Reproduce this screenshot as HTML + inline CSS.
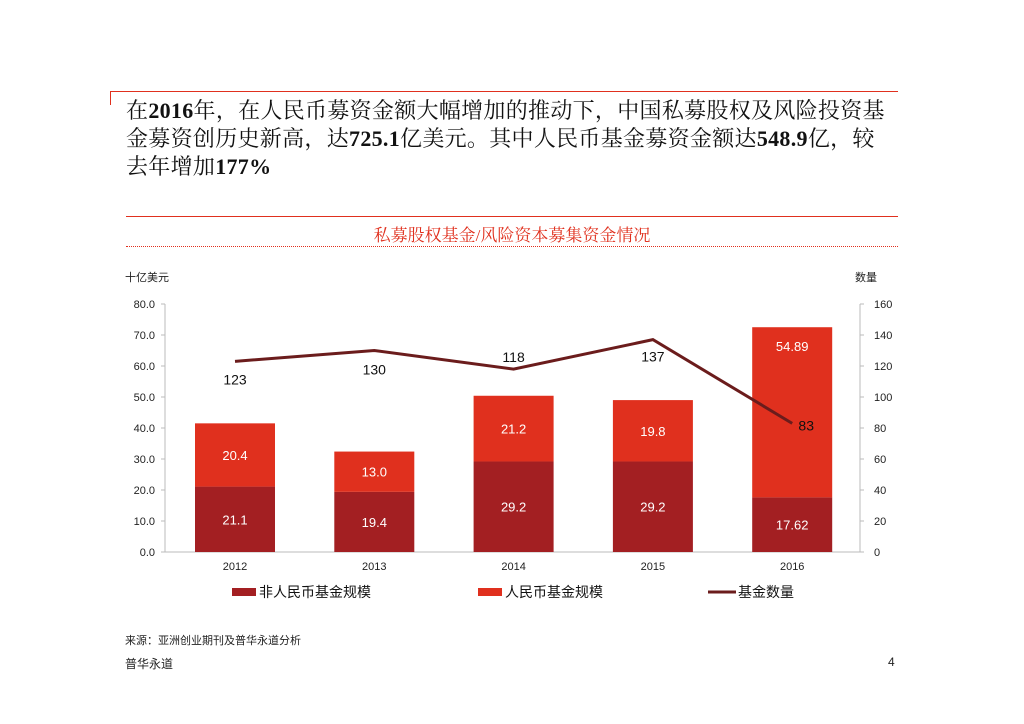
<!DOCTYPE html>
<html><head><meta charset="utf-8">
<style>
body{margin:0;width:1024px;height:724px;background:#fff;overflow:hidden;font-family:"Liberation Sans","Noto Sans CJK SC",sans-serif;}
.hdr{position:absolute;left:126px;top:97px;width:790px;font-family:"Liberation Serif","Noto Serif CJK SC",serif;font-size:22px;letter-spacing:0.3px;line-height:28px;color:#111;white-space:nowrap;}
.hdr b{font-weight:bold;}
</style></head><body>
<div style="position:absolute;left:110px;top:91px;width:788px;height:1px;background:#e0301e"></div>
<div style="position:absolute;left:110px;top:91px;width:1px;height:14px;background:#e0301e"></div>
<div class="hdr">在<b>2016</b>年，在人民币募资金额大幅增加的推动下，中国私募股权及风险投资基<br>金募资创历史新高，达<b>725.1</b>亿美元。其中人民币基金募资金额达<b>548.9</b>亿，较<br>去年增加<b>177%</b></div>
<div style="position:absolute;left:126px;top:216px;width:772px;height:1px;background:#e0301e"></div>
<div style="position:absolute;left:126px;top:221px;width:772px;text-align:center;font-family:'Liberation Serif','Noto Serif CJK SC',serif;font-size:17px;color:#e0301e">私募股权基金/风险资本募集资金情况</div>
<div style="position:absolute;left:126px;top:246px;width:772px;border-top:1px dotted #e0301e"></div>
<svg width="1024" height="724" style="position:absolute;left:0;top:0" id="chart"></svg>
<div style="position:absolute;left:125px;top:632px;font-size:11px;color:#222">来源：亚洲创业期刊及普华永道分析</div>
<div style="position:absolute;left:125px;top:655px;font-size:12px;color:#222">普华永道</div>
<div style="position:absolute;left:888px;top:655px;font-size:12px;color:#222">4</div>
<script>
const years=["2012","2013","2014","2015","2016"];
const nonRmb=[21.1,19.4,29.2,29.2,17.62];
const rmb=[20.4,13.0,21.2,19.8,54.89];
const fundCount=[123,130,118,137,83];
const leftTicks=[0,10,20,30,40,50,60,70,80];
const rightTicks=[0,20,40,60,80,100,120,140,160];
const NS="http://www.w3.org/2000/svg";
const svg=document.getElementById('chart');
const x0=165,x1=860,yB=552,yT=304;
const yL=v=>yB-(v/80)*(yB-yT);
const yR=v=>yB-(v/160)*(yB-yT);
const xC=i=>235+i*139.3;
const bw=80;
function mk(t,a,txt){const e=document.createElementNS(NS,t);for(const k in a)e.setAttribute(k,a[k]);if(txt!==undefined)e.textContent=txt;svg.appendChild(e);return e;}
let e;
e=mk('line',{x1:x0,y1:yT,x2:x0,y2:yB,stroke:'#bbb'});

e=mk('line',{x1:x1,y1:yT,x2:x1,y2:yB,stroke:'#bbb'});

e=mk('line',{x1:x0,y1:yB,x2:x1,y2:yB,stroke:'#bbb'});

leftTicks.forEach(v=>{mk('line',{x1:x0-4,y1:yL(v),x2:x0,y2:yL(v),stroke:'#bbb'});
e=mk('text',{x:x0-10,y:yL(v)+4,'text-anchor':'end','font-size':11,fill:'#222'},v.toFixed(1));
});
rightTicks.forEach(v=>{mk('line',{x1:x1,y1:yR(v),x2:x1+4,y2:yR(v),stroke:'#bbb'});
e=mk('text',{x:x1+14,y:yR(v)+4,'font-size':11,fill:'#222'},String(v));
});
e=mk('text',{x:125,y:281,'font-size':11,fill:'#222'},'十亿美元');

e=mk('text',{x:855,y:281,'font-size':11,fill:'#222'},'数量');

years.forEach((y,i)=>{
 const cx=xC(i);
 const ya=yL(nonRmb[i]),yb=yL(nonRmb[i]+rmb[i]);
 e=mk('rect',{x:cx-bw/2,y:ya,width:bw,height:yB-ya,fill:'#a31f22'});
 
 e=mk('rect',{x:cx-bw/2,y:yb,width:bw,height:ya-yb,fill:'#e0301e'});
 
 e=mk('text',{x:cx,y:(ya+yB)/2+5,'text-anchor':'middle','font-size':13,fill:'#fff'},String(nonRmb[i]));
 
 const tall=(ya-yb)>120;
 e=mk('text',{x:cx,y:tall?yb+24:(ya+yb)/2+5,'text-anchor':'middle','font-size':13,fill:'#fff'},rmb[i].toFixed(rmb[i]>=50?2:1));
 
 e=mk('text',{x:cx,y:yB+18,'text-anchor':'middle','font-size':11,fill:'#222'},y);
 
});
const pts=fundCount.map((v,i)=>xC(i)+','+yR(v)).join(' ');
e=mk('polyline',{points:pts,fill:'none',stroke:'#6b1c1c','stroke-width':3});

const off=[23,24,-7,22,0];
fundCount.forEach((v,i)=>{
 const last=i===fundCount.length-1;
 e=mk('text',{x:xC(i)+(last?14:0),y:yR(v)+(last?7:off[i]),'text-anchor':'middle','font-size':14,fill:'#111'},String(v));
 
});
e=mk('rect',{x:232,y:588,width:24,height:8,fill:'#a31f22'});

e=mk('text',{x:259,y:597,'font-size':14,fill:'#111'},'非人民币基金规模');

e=mk('rect',{x:478,y:588,width:24,height:8,fill:'#e0301e'});

e=mk('text',{x:505,y:597,'font-size':14,fill:'#111'},'人民币基金规模');

e=mk('line',{x1:708,y1:592,x2:736,y2:592,stroke:'#6b1c1c','stroke-width':3});

e=mk('text',{x:738,y:597,'font-size':14,fill:'#111'},'基金数量');

</script>
</body></html>
